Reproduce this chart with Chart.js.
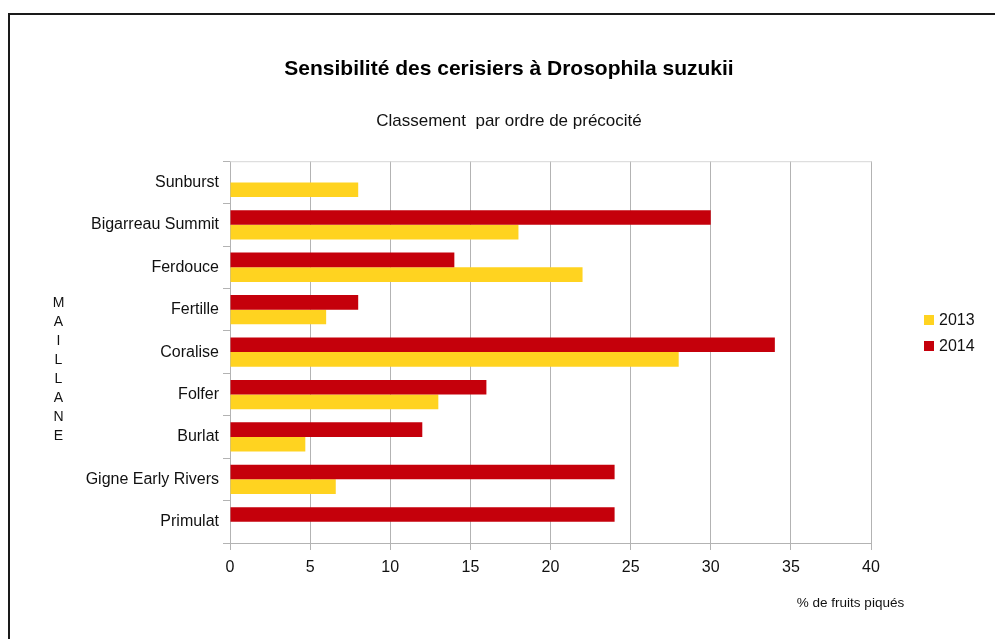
<!DOCTYPE html>
<html>
<head>
<meta charset="utf-8">
<script src="https://cdn.jsdelivr.net/npm/chart.js@4/dist/chart.umd.min.js"></script>
<style>
  html, body { margin: 0; padding: 0; background: #fff; }
  #wrap { position: relative; width: 995px; height: 639px; }
</style>
</head>
<body>
<div id="wrap"><canvas id="c" width="995" height="639"></canvas></div>
<script>
const categories = ['Sunburst', 'Bigarreau Summit', 'Ferdouce', 'Fertille', 'Coralise', 'Folfer', 'Burlat', 'Gigne Early Rivers', 'Primulat'];
const values2013 = [8, 18, 22, 6, 28, 13, 4.7, 6.6, null];
const values2014 = [null, 30, 14, 8, 34, 16, 12, 24, 24];
const seriesNames = ['2013', '2014'];
const sideLabel = 'MAILLANE';
const xTitle = '% de fruits piqués';
const titleText = 'Sensibilité des cerisiers à Drosophila suzukii';
const subtitleText = 'Classement  par ordre de précocité';

const YELLOW = '#FFD320';
const RED = '#C5000B';
const GRID = '#b3b3b3';
const TXT = '#111111';
const FONT = "'Liberation Sans', Arial, sans-serif";

const extras = {
  id: 'extras',
  afterDraw(chart) {
    const ctx = chart.ctx;
    const area = chart.chartArea;
    ctx.save();
    // outer frame
    ctx.fillStyle = '#1a1a1a';
    ctx.fillRect(8, 13, 2, 626);
    ctx.fillRect(8, 13, 987, 2);
    // top edge of plot
    ctx.fillStyle = '#d6d6d6';
    ctx.fillRect(area.left, area.top, area.right - area.left + 1, 1);
    // vertical side label
    ctx.fillStyle = TXT;
    ctx.font = '14px ' + FONT;
    ctx.textAlign = 'center';
    ctx.textBaseline = 'middle';
    const letters = sideLabel.split('');
    letters.forEach((ch, i) => ctx.fillText(ch, 58.5, 303.5 + i * 18.9));
    // x axis title
    ctx.font = '13.5px ' + FONT;
    ctx.fillText(xTitle, 850.5, 603);
    // legend
    ctx.textAlign = 'left';
    ctx.font = '16px ' + FONT;
    const legendColors = [YELLOW, RED];
    seriesNames.forEach((name, i) => {
      const y = 320 + i * 26;
      ctx.fillStyle = legendColors[i];
      ctx.fillRect(924, y - 5, 10, 10);
      ctx.fillStyle = TXT;
      ctx.fillText(name, 939, y + 0.5);
    });
    ctx.restore();
  }
};

new Chart(document.getElementById('c'), {
  type: 'bar',
  data: {
    labels: categories,
    datasets: [
      { label: seriesNames[1], data: values2014, backgroundColor: RED, borderWidth: 0, categoryPercentage: 0.69, barPercentage: 1.0, yAxisID: 'y' },
      { label: seriesNames[0], data: values2013, backgroundColor: YELLOW, borderWidth: 0, categoryPercentage: 0.69, barPercentage: 1.0, yAxisID: 'y' }
    ]
  },
  options: {
    indexAxis: 'y',
    responsive: false,
    animation: false,
    devicePixelRatio: 1,
    layout: { padding: { left: 23, right: 0, top: 0, bottom: 0 } },
    plugins: {
      legend: { display: false },
      tooltip: { enabled: false },
      title: {
        display: true, text: titleText, color: '#000',
        font: { family: FONT, size: 21, weight: 'bold', lineHeight: 1.2 },
        padding: { top: 57, bottom: 0 }
      },
      subtitle: {
        display: true, text: subtitleText, color: TXT,
        font: { family: FONT, size: 17, lineHeight: 1.2 },
        padding: { top: 28.8, bottom: 29.8 }
      }
    },
    scales: {
      x: {
        min: 0, max: 40,
        ticks: { stepSize: 5, color: TXT, font: { family: FONT, size: 16 }, padding: 8 },
        grid: { color: GRID, tickColor: GRID, tickLength: 7, lineWidth: 1 },
        border: { color: GRID, width: 1 },
        afterFit(s) { s.height = 96; }
      },
      y: {
        position: 'left',
        ticks: { color: TXT, font: { family: FONT, size: 16 }, padding: 4 },
        grid: { drawOnChartArea: false, drawTicks: true, tickLength: 7, color: GRID, tickColor: GRID, offset: true },
        border: { color: GRID, width: 1 },
        afterFit(s) { s.width = 207; }
      },
      yRight: {
        type: 'category',
        axis: 'y',
        position: 'right',
        display: true,
        ticks: { display: false },
        grid: { display: false },
        border: { display: false },
        afterFit(s) { s.width = 124; }
      }
    }
  },
  plugins: [extras]
});
</script>
</body>
</html>
